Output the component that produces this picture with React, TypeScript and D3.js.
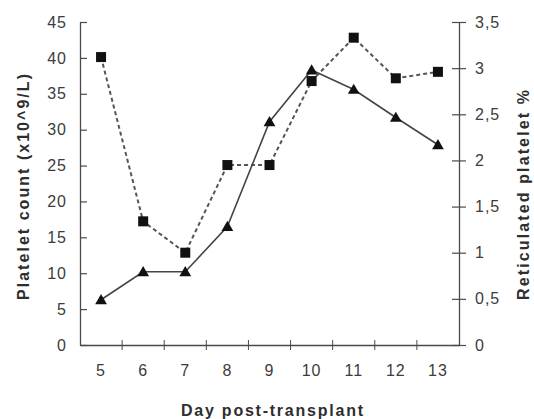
import React, { useEffect, useRef } from "react";
import * as d3 from "d3";

const days = ["5", "6", "7", "8", "9", "10", "11", "12", "13"];
const plateletCount = [6.3, 10.2, 10.2, 16.5, 31.1, 38.3, 35.6, 31.7, 27.9];
const reticulatedPct = [3.12, 1.34, 1.0, 1.95, 1.95, 2.86, 3.33, 2.89, 2.96];
const leftTicks = [0, 5, 10, 15, 20, 25, 30, 35, 40, 45];
const rightTicks = [0, 0.5, 1, 1.5, 2, 2.5, 3, 3.5];

const W = 534;
const H = 419;
const margin = { left: 80, right: 75, top: 22, bottom: 74 };
const ink = "#4a4a4a";
const labelInk = "#3c3c3c";
const font = "Arial, 'Liberation Sans', sans-serif";

const drawChart = (el: SVGSVGElement) => {
  const svg = d3.select(el);
  svg.selectAll("*").remove();

  const x0 = margin.left;
  const x1 = W - margin.right;
  const y0 = H - margin.bottom;
  const y1 = margin.top;

  const x = d3.scaleBand().domain(days).range([x0, x1]);
  const yL = d3.scaleLinear().domain([0, 45]).range([y0, y1]);
  const yR = d3.scaleLinear().domain([0, 3.5]).range([y0, y1]);

  const fmt = (v: number) => String(v).replace(".", ",");

  // left axis
  const gl = svg.append("g").attr("transform", `translate(${x0},0)`);
  gl.call(d3.axisLeft(yL).tickValues(leftTicks).tickSize(7).tickSizeOuter(0));
  gl.selectAll(".tick line").attr("x2", 7);
  // right axis
  const gr = svg.append("g").attr("transform", `translate(${x1},0)`);
  gr.call(
    d3.axisRight(yR).tickValues(rightTicks).tickFormat((d) => fmt(d as number)).tickSize(7).tickSizeOuter(0)
  );
  gr.selectAll(".tick line").attr("x2", 7).attr("x1", -7);
  // bottom axis: ticks between categories
  const gb = svg.append("g").attr("transform", `translate(0,${y0})`);
  gb.call(d3.axisBottom(x).tickSize(0).tickSizeOuter(0));
  gb.selectAll(".tick line").remove();
  gb.selectAll(".tick text").attr("dy", "1.75em");
  gb.selectAll("line.cat")
    .data(days.slice(1))
    .enter()
    .append("line")
    .attr("class", "cat")
    .attr("x1", (d) => x(d) as number)
    .attr("x2", (d) => x(d) as number)
    .attr("y1", -5)
    .attr("y2", 5)
    .attr("stroke", ink);

  [gl, gr, gb].forEach((g) => {
    g.selectAll("path.domain").attr("stroke", ink).attr("stroke-width", 1.3);
    g.selectAll(".tick line").attr("stroke", ink).attr("stroke-width", 1.2);
    g.selectAll(".tick text")
      .attr("fill", labelInk)
      .style("font-family", font)
      .style("font-size", "16px")
      .style("letter-spacing", "1px");
  });
  gl.selectAll(".tick text").attr("x", -13);
  gr.selectAll(".tick text").attr("x", 16);

  const cx = (i: number) => (x(days[i]) as number) + x.bandwidth() / 2;

  // reticulated platelets, dashed with squares
  const lineR = d3
    .line<number>()
    .x((_, i) => cx(i))
    .y((d) => yR(d));
  svg
    .append("path")
    .datum(reticulatedPct)
    .attr("d", lineR)
    .attr("fill", "none")
    .attr("stroke", "#555")
    .attr("stroke-width", 2)
    .attr("stroke-dasharray", "4,3");

  // platelet count, solid with triangles
  const lineL = d3
    .line<number>()
    .x((_, i) => cx(i))
    .y((d) => yL(d));
  svg
    .append("path")
    .datum(plateletCount)
    .attr("d", lineL)
    .attr("fill", "none")
    .attr("stroke", "#444")
    .attr("stroke-width", 1.6);

  svg
    .selectAll("rect.sq")
    .data(reticulatedPct)
    .enter()
    .append("rect")
    .attr("class", "sq")
    .attr("x", (_, i) => cx(i) - 5)
    .attr("y", (d) => yR(d) - 5)
    .attr("width", 10)
    .attr("height", 10)
    .attr("fill", "#111");

  const tri = d3.symbol().type(d3.symbolTriangle).size(60);
  svg
    .selectAll("path.tri")
    .data(plateletCount)
    .enter()
    .append("path")
    .attr("class", "tri")
    .attr("d", tri)
    .attr("transform", (d, i) => `translate(${cx(i)},${yL(d) + 1})`)
    .attr("fill", "#111");

  // axis titles
  const title = (t: string, tx: number, ty: number, rot: number, len: number) =>
    svg
      .append("text")
      .attr("transform", `translate(${tx},${ty}) rotate(${rot})`)
      .attr("text-anchor", "middle")
      .attr("dominant-baseline", "central")
      .attr("fill", "#2e2e2e")
      .attr("textLength", len)
      .attr("lengthAdjust", "spacing")
      .style("font-family", font)
      .style("font-size", "16px")
      .style("font-weight", "bold")
      .text(t);

  title("Platelet count (x10^9/L)", 23, 187, -90, 226);
  title("Reticulated platelet %", 523, 195, -90, 210);
  title("Day post-transplant", 272, 410, 0, 182);
};

const App = () => {
  const ref = useRef<SVGSVGElement>(null);
  useEffect(() => {
    if (ref.current) drawChart(ref.current);
  });
  return (
    <svg
      ref={ref}
      width={W}
      height={H}
      style={{ position: "absolute", left: 0, top: 0, background: "#fff" }}
    />
  );
};

export default App;
